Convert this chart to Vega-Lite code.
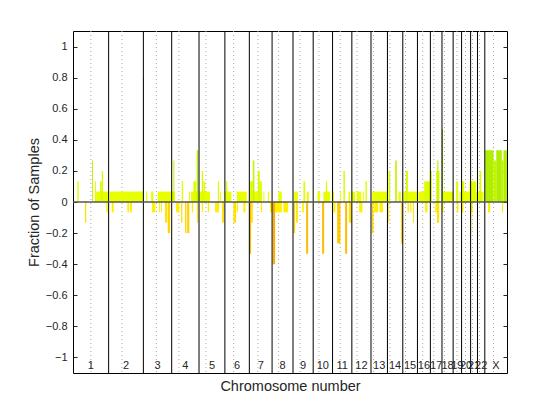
{
  "$schema": "https://vega.github.io/schema/vega-lite/v6.json",
  "width": 434,
  "height": 342,
  "autosize": "none",
  "padding": {"left": 73, "top": 31, "right": 53, "bottom": 47},
  "background": "white",
  "config": {
    "view": {"stroke": "#000", "strokeWidth": 1},
    "font": "Liberation Sans",
    "axis": {"grid": false, "labelColor": "#262626", "titleColor": "#262626", "titleFontWeight": "normal", "labelFontSize": 11, "titleFontSize": 14.5, "domain": false}
  },
  "datasets": {
    "bars": [
      {"s": 30, "e": 40, "v": 0.133}, {"s": 133, "e": 140, "v": 0.267}, {"s": 154, "e": 247, "v": 0.067}, {"s": 154, "e": 161, "v": 0.133},
      {"s": 189, "e": 201, "v": 0.133}, {"s": 201, "e": 210, "v": 0.2}, {"s": 256, "e": 490, "v": 0.067}, {"s": 490, "e": 493, "v": 0.8},
      {"s": 511, "e": 520, "v": 0.067}, {"s": 546, "e": 562, "v": 0.067}, {"s": 593, "e": 714, "v": 0.067}, {"s": 702, "e": 709, "v": 0.267},
      {"s": 761, "e": 770, "v": 0.133}, {"s": 812, "e": 819, "v": 0.067}, {"s": 826, "e": 873, "v": 0.067}, {"s": 842, "e": 861, "v": 0.133},
      {"s": 866, "e": 877, "v": 0.333}, {"s": 884, "e": 959, "v": 0.067}, {"s": 901, "e": 910, "v": 0.2}, {"s": 912, "e": 924, "v": 0.133},
      {"s": 1013, "e": 1022, "v": 0.133}, {"s": 1029, "e": 1036, "v": 0.067}, {"s": 1064, "e": 1108, "v": 0.067}, {"s": 1071, "e": 1080, "v": 0.133},
      {"s": 1146, "e": 1216, "v": 0.067}, {"s": 1239, "e": 1321, "v": 0.067}, {"s": 1239, "e": 1258, "v": 0.133}, {"s": 1258, "e": 1269, "v": 0.267},
      {"s": 1293, "e": 1307, "v": 0.2}, {"s": 1307, "e": 1321, "v": 0.133}, {"s": 1332, "e": 1339, "v": 0.067}, {"s": 1363, "e": 1372, "v": 0.067},
      {"s": 1437, "e": 1461, "v": 0.067}, {"s": 1547, "e": 1573, "v": 0.067}, {"s": 1612, "e": 1624, "v": 0.133}, {"s": 1636, "e": 1650, "v": 0.067},
      {"s": 1710, "e": 1729, "v": 0.067}, {"s": 1752, "e": 1799, "v": 0.067}, {"s": 1769, "e": 1778, "v": 0.133}, {"s": 1811, "e": 1827, "v": 0.067},
      {"s": 1869, "e": 1876, "v": 0.067}, {"s": 1892, "e": 1902, "v": 0.2}, {"s": 1927, "e": 1939, "v": 0.067}, {"s": 1951, "e": 1974, "v": 0.067},
      {"s": 1986, "e": 2016, "v": 0.067}, {"s": 2028, "e": 2035, "v": 0.067}, {"s": 2046, "e": 2056, "v": 0.133}, {"s": 2093, "e": 2196, "v": 0.067},
      {"s": 2207, "e": 2219, "v": 0.2}, {"s": 2254, "e": 2266, "v": 0.267}, {"s": 2277, "e": 2294, "v": 0.067}, {"s": 2312, "e": 2406, "v": 0.067},
      {"s": 2329, "e": 2343, "v": 0.2}, {"s": 2417, "e": 2499, "v": 0.067}, {"s": 2457, "e": 2499, "v": 0.133}, {"s": 2499, "e": 2511, "v": 0.2},
      {"s": 2541, "e": 2564, "v": 0.2}, {"s": 2548, "e": 2557, "v": 0.267}, {"s": 2581, "e": 2588, "v": 0.467}, {"s": 2588, "e": 2662, "v": 0.067},
      {"s": 2681, "e": 2695, "v": 0.133}, {"s": 2704, "e": 2872, "v": 0.067}, {"s": 2721, "e": 2737, "v": 0.133}, {"s": 2774, "e": 2821, "v": 0.133},
      {"s": 2844, "e": 2856, "v": 0.2}, {"s": 2884, "e": 2942, "v": 0.333}, {"s": 2942, "e": 2961, "v": 0.267}, {"s": 2961, "e": 3000, "v": 0.333},
      {"s": 3000, "e": 3012, "v": 0.267}, {"s": 3012, "e": 3036, "v": 0.333},
      {"s": 84, "e": 93, "v": -0.133}, {"s": 233, "e": 243, "v": -0.067}, {"s": 271, "e": 285, "v": -0.067}, {"s": 380, "e": 392, "v": -0.067},
      {"s": 399, "e": 413, "v": -0.067}, {"s": 553, "e": 576, "v": -0.067}, {"s": 602, "e": 609, "v": -0.067}, {"s": 616, "e": 623, "v": -0.067},
      {"s": 644, "e": 660, "v": -0.133}, {"s": 663, "e": 679, "v": -0.2}, {"s": 721, "e": 744, "v": -0.067}, {"s": 756, "e": 765, "v": -0.133},
      {"s": 784, "e": 793, "v": -0.2}, {"s": 798, "e": 814, "v": -0.2}, {"s": 831, "e": 840, "v": -0.067}, {"s": 868, "e": 877, "v": -0.133},
      {"s": 901, "e": 910, "v": -0.067}, {"s": 943, "e": 952, "v": -0.067}, {"s": 994, "e": 1022, "v": -0.067}, {"s": 1043, "e": 1057, "v": -0.133},
      {"s": 1122, "e": 1141, "v": -0.133}, {"s": 1146, "e": 1155, "v": -0.067}, {"s": 1192, "e": 1206, "v": -0.067}, {"s": 1234, "e": 1246, "v": -0.333},
      {"s": 1246, "e": 1258, "v": -0.133}, {"s": 1314, "e": 1323, "v": -0.067}, {"s": 1379, "e": 1393, "v": -0.067}, {"s": 1398, "e": 1414, "v": -0.4},
      {"s": 1414, "e": 1461, "v": -0.067}, {"s": 1472, "e": 1505, "v": -0.067}, {"s": 1542, "e": 1554, "v": -0.2}, {"s": 1561, "e": 1573, "v": -0.133},
      {"s": 1603, "e": 1615, "v": -0.067}, {"s": 1631, "e": 1645, "v": -0.333}, {"s": 1743, "e": 1757, "v": -0.333}, {"s": 1822, "e": 1836, "v": -0.067},
      {"s": 1848, "e": 1871, "v": -0.267}, {"s": 1904, "e": 1918, "v": -0.333}, {"s": 1930, "e": 1951, "v": -0.133}, {"s": 2002, "e": 2025, "v": -0.067},
      {"s": 2091, "e": 2102, "v": -0.2}, {"s": 2107, "e": 2135, "v": -0.067}, {"s": 2144, "e": 2168, "v": -0.067}, {"s": 2205, "e": 2212, "v": -0.133},
      {"s": 2296, "e": 2308, "v": -0.267}, {"s": 2340, "e": 2350, "v": -0.067}, {"s": 2359, "e": 2368, "v": -0.067}, {"s": 2378, "e": 2385, "v": -0.133},
      {"s": 2464, "e": 2480, "v": -0.067}, {"s": 2534, "e": 2546, "v": -0.067}, {"s": 2546, "e": 2562, "v": -0.133}, {"s": 2581, "e": 2592, "v": -0.067},
      {"s": 2686, "e": 2697, "v": -0.067}, {"s": 2721, "e": 2732, "v": -0.067}, {"s": 2779, "e": 2795, "v": -0.067}, {"s": 2790, "e": 2793, "v": -0.2},
      {"s": 2903, "e": 2919, "v": -0.067}, {"s": 3001, "e": 3008, "v": -0.067}
    ],
    "chroms": [
      {"c": "1", "e": 249.25, "mid": 124.6, "cen": 125.0},
      {"c": "2", "e": 492.45, "mid": 370.85, "cen": 342.55},
      {"c": "3", "e": 690.47, "mid": 591.46, "cen": 583.45},
      {"c": "4", "e": 881.62, "mid": 786.05, "cen": 740.87},
      {"c": "5", "e": 1062.54, "mid": 972.08, "cen": 930.02},
      {"c": "6", "e": 1233.66, "mid": 1148.1, "cen": 1123.54},
      {"c": "7", "e": 1392.8, "mid": 1313.23, "cen": 1293.56},
      {"c": "8", "e": 1539.16, "mid": 1465.98, "cen": 1438.4},
      {"c": "9", "e": 1680.37, "mid": 1609.77, "cen": 1588.16},
      {"c": "10", "e": 1815.9, "mid": 1748.14, "cen": 1720.57},
      {"c": "11", "e": 1950.91, "mid": 1883.41, "cen": 1869.6},
      {"c": "12", "e": 2084.76, "mid": 2017.84, "cen": 1986.71},
      {"c": "13", "e": 2199.93, "mid": 2142.35, "cen": 2102.66},
      {"c": "14", "e": 2307.28, "mid": 2253.6, "cen": 2217.53},
      {"c": "15", "e": 2409.81, "mid": 2358.55, "cen": 2326.28},
      {"c": "16", "e": 2500.16, "mid": 2454.99, "cen": 2446.41},
      {"c": "17", "e": 2581.36, "mid": 2540.76, "cen": 2524.16},
      {"c": "18", "e": 2659.44, "mid": 2620.4, "cen": 2598.56},
      {"c": "19", "e": 2718.57, "mid": 2689.0, "cen": 2685.94},
      {"c": "20", "e": 2781.6, "mid": 2750.09, "cen": 2746.07},
      {"c": "21", "e": 2829.73, "mid": 2805.67, "cen": 2794.8},
      {"c": "22", "e": 2881.03, "mid": 2855.38, "cen": 2844.43},
      {"c": "X", "e": 3036.3, "mid": 2958.67, "cen": 2941.63}
    ]
  },
  "layer": [
    {
      "data": {"name": "chroms"},
      "mark": {"type": "rule", "color": "#aaaaaa", "strokeWidth": 1, "strokeDash": [1, 3]},
      "encoding": {
        "x": {"field": "cen", "type": "quantitative", "scale": {"domain": [0, 3036.3], "nice": false, "zero": false}, "axis": {"title": "Chromosome number", "labels": false, "ticks": false, "titlePadding": 6}}
      }
    },
    {
      "data": {"name": "bars"},
      "mark": {"type": "rect", "opacity": 1},
      "encoding": {
        "x": {"field": "s", "type": "quantitative"},
        "x2": {"field": "e"},
        "y": {"field": "v", "type": "quantitative", "scale": {"domain": [-1.1, 1.1], "nice": false}, "axis": {"title": "Fraction of Samples", "values": [-1, -0.8, -0.6, -0.4, -0.2, 0, 0.2, 0.4, 0.6, 0.8, 1], "format": "~g", "tickSize": -4, "tickColor": "#262626", "labelPadding": 10, "titlePadding": 4}},
        "y2": {"datum": 0},
        "color": {"field": "v", "type": "quantitative", "legend": null, "scale": {"interpolate": "rgb", "domain": [-0.4, -0.2, -0.067, 0.067, 0.2, 0.333, 0.8], "range": ["#ffae00", "#ffd400", "#fff000", "#e8ff00", "#d8fb00", "#b0ef00", "#006400"]}}
      }
    },
    {
      "data": {"name": "chroms"},
      "transform": [{"filter": "datum.c != 'X'"}],
      "mark": {"type": "rule", "color": "#000000", "strokeWidth": 1},
      "encoding": {
        "x": {"field": "e", "type": "quantitative"}
      }
    },
    {
      "data": {"values": [{}]},
      "mark": {"type": "rule", "color": "#555555", "strokeWidth": 1.5},
      "encoding": {
        "y": {"datum": 0, "axis": {"orient": "right", "title": null, "labels": false, "values": [-1, -0.8, -0.6, -0.4, -0.2, 0, 0.2, 0.4, 0.6, 0.8, 1], "tickSize": -4, "tickColor": "#262626"}}
      }
    },
    {
      "data": {"name": "chroms"},
      "mark": {"type": "text", "fontSize": 11, "color": "#262626", "baseline": "middle", "align": "center"},
      "encoding": {
        "x": {"field": "mid", "type": "quantitative"},
        "y": {"datum": -1.055, "axis": null},
        "text": {"field": "c"}
      }
    }
  ],
  "resolve": {"axis": {"y": "independent"}}
}
